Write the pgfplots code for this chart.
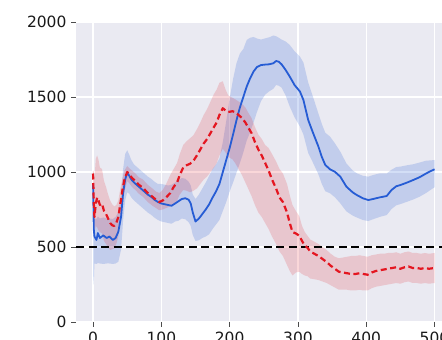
\documentclass[border=0pt]{standalone}
\usepackage{fontspec}
\setmainfont{DejaVu Sans}
\usepackage{pgfplots}
\usepgfplotslibrary{fillbetween}
\pgfplotsset{compat=1.18}
\usepackage{pgfplotstable}
\definecolor{bgc}{RGB}{234,234,242}
\definecolor{blueline}{RGB}{38,92,212}
\definecolor{redline}{RGB}{228,22,32}

\pgfplotstableread{
x y dn up
0 920 600 80
1 620 370 80
2 570 180 120
5 547 160 140
7 593 200 110
10 560 170 130
15 577 190 120
20 560 170 130
24 570 180 120
29 547 160 140
33 560 170 140
37 602 200 130
41 702 220 140
44 860 180 160
47 950 140 170
50 995 130 150
53 975 120 140
56 950 120 130
60 930 120 120
65 910 120 120
70 890 120 120
75 870 120 120
80 850 120 120
85 835 120 120
90 815 120 120
95 800 120 120
100 790 120 130
105 785 120 130
110 780 120 130
115 775 120 140
120 790 120 140
125 805 130 140
130 820 130 140
135 825 140 130
140 815 150 120
143 790 150 120
146 730 150 120
150 670 130 150
155 690 145 160
160 720 160 170
165 750 180 180
170 785 200 190
175 830 210 190
180 870 220 180
185 920 240 170
190 1000 260 200
195 1080 280 260
200 1160 290 330
205 1250 320 370
210 1345 350 380
215 1430 370 360
220 1500 370 320
225 1570 360 310
230 1625 360 270
235 1670 340 230
240 1700 300 190
246 1713 240 170
252 1716 200 175
258 1718 180 180
264 1725 170 185
268 1740 160 165
272 1735 160 160
276 1718 155 165
282 1680 170 190
288 1636 200 211
295 1580 215 225
303 1536 234 233
308 1480 230 250
315 1347 220 250
322 1262 200 240
330 1169 185 220
335 1100 180 220
340 1047 175 215
347 1018 160 218
354 1002 170 190
362 969 178 167
371 902 165 155
380 865 155 146
386 847 150 145
395 825 145 150
403 813 140 156
410 820 135 160
420 831 130 160
430 840 127 150
437 880 127 135
444 905 127 128
450 913 127 123
460 930 128 115
469 947 130 105
478 965 130 98
488 991 130 85
494 1005 125 72
500 1018 120 62
}\bluetab

\pgfplotstableread{
x y dn up
0 990 100 20
1 800 120 200
2 700 100 250
4 790 150 300
6 830 200 280
8 810 200 270
10 780 180 250
13 790 200 230
16 740 200 200
19 720 200 180
22 690 190 160
25 660 180 150
28 645 160 140
31 640 150 130
34 660 140 120
37 700 130 110
40 790 120 100
43 880 100 80
46 950 80 60
50 1000 60 40
53 985 60 40
57 960 60 50
62 940 60 50
67 915 60 50
73 895 60 55
80 860 60 55
87 835 60 55
92 815 55 55
97 800 55 60
102 810 60 70
107 830 70 90
113 860 90 120
118 900 110 120
123 930 120 130
127 980 130 140
132 1030 150 150
137 1045 170 160
142 1055 190 170
147 1075 200 170
152 1110 220 175
157 1150 230 180
162 1190 240 190
167 1220 250 200
172 1260 260 210
177 1300 270 220
181 1330 270 220
185 1380 270 215
190 1425 270 180
194 1410 280 140
198 1400 300 110
204 1405 320 90
208 1400 340 85
213 1380 360 90
218 1360 380 95
223 1330 400 100
228 1290 410 100
232 1260 420 100
237 1200 420 100
242 1150 420 100
247 1110 410 110
252 1060 400 120
257 1010 390 150
262 950 380 170
268 890 370 180
273 830 360 190
278 800 360 190
284 730 350 190
288 660 320 185
292 600 290 180
297 590 260 150
302 575 240 130
306 540 220 100
310 510 200 90
314 495 190 80
318 470 180 80
324 455 170 80
330 440 160 80
336 420 150 80
342 400 140 80
348 375 130 80
354 355 125 80
360 335 120 90
366 330 115 100
372 325 110 110
378 320 110 120
384 320 110 120
390 325 110 120
396 320 110 120
402 315 105 120
408 330 105 115
414 340 105 110
420 345 105 110
426 350 105 105
432 355 105 105
438 360 105 100
444 365 105 100
450 355 100 100
456 365 100 100
462 370 100 100
468 360 100 100
474 360 100 100
480 355 100 100
486 360 100 100
492 355 100 100
500 360 100 100
}\redtab

\begin{document}
\begin{tikzpicture}
\begin{axis}[
  at={(76pt,18pt)}, anchor=south west,
  scale only axis, width=375.6pt, height=300pt,
  xmin=-25, xmax=525, ymin=0, ymax=2000,
  axis background/.style={fill=bgc},
  axis line style={draw=none},
  xtick={0,100,200,300,400,500},
  ytick={0,500,1000,1500,2000},
  grid=major,
  major grid style={white, line width=1.3pt},
  tick pos=left,
  tick align=outside,
  major tick length=5pt,
  tick style={black!70, line width=0.8pt},
  ticklabel style={font=\fontsize{15.5}{18}\selectfont, text=black!90},
  /pgf/number format/assume math mode=true,
  /pgf/number format/1000 sep={},
  xticklabel style={yshift=-1pt},
  yticklabel style={xshift=-1pt},
]
\addplot[name path=bu, draw=none, forget plot] table[x=x, y expr=\thisrow{y}+\thisrow{up}] {\bluetab};
\addplot[name path=bl, draw=none, forget plot] table[x=x, y expr=\thisrow{y}-\thisrow{dn}] {\bluetab};
\addplot[fill=blueline, fill opacity=0.2, draw=none, forget plot] fill between[of=bu and bl];
\addplot[name path=ru, draw=none, forget plot] table[x=x, y expr=\thisrow{y}+\thisrow{up}] {\redtab};
\addplot[name path=rl, draw=none, forget plot] table[x=x, y expr=\thisrow{y}-\thisrow{dn}] {\redtab};
\addplot[fill=redline, fill opacity=0.17, draw=none, forget plot] fill between[of=ru and rl];
\addplot[black, line width=2.3pt, dash pattern=on 8pt off 4.5pt] coordinates {(-25,500) (525,500)};
\addplot[blueline, line width=1.8pt, line join=round] table[x=x, y=y] {\bluetab};
\addplot[redline, line width=2.2pt, dash pattern=on 6pt off 3.5pt, line join=round] table[x=x, y=y] {\redtab};
\end{axis}
\pgfresetboundingbox
\path[use as bounding box] (0,0) rectangle (442pt,340pt);
\end{tikzpicture}
\end{document}
